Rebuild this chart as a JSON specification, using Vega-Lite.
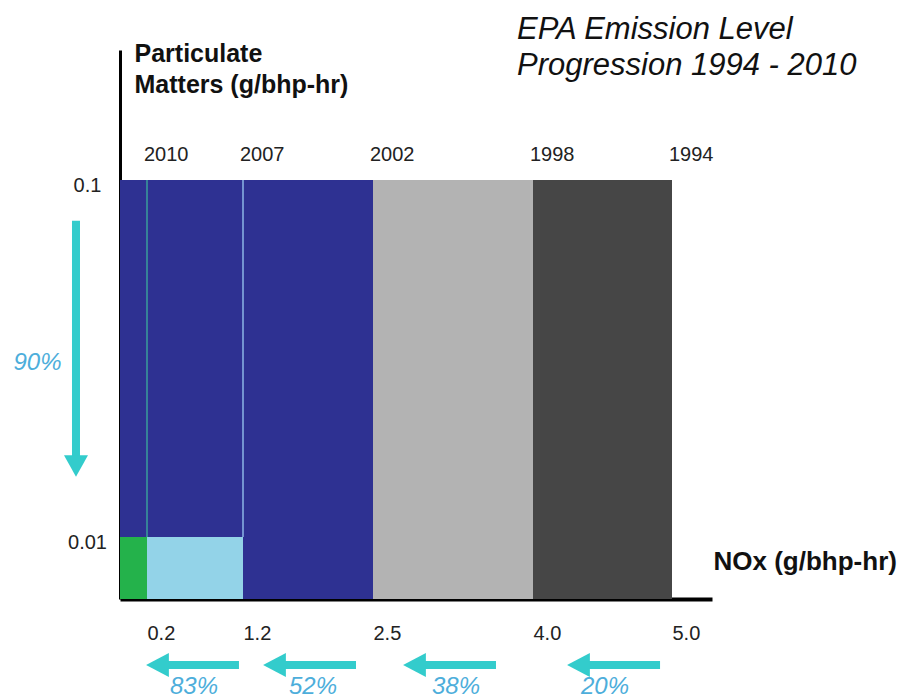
{
  "$schema": "https://vega.github.io/schema/vega-lite/v6.json",
  "width": 592,
  "height": 549,
  "autosize": {"type": "none"},
  "padding": {"left": 120, "top": 50, "right": 190, "bottom": 101},
  "background": "white",
  "config": {"view": {"stroke": null}, "font": "Liberation Sans"},
  "title": {
    "text": ["EPA Emission Level", "Progression 1994 - 2010"],
    "orient": "top",
    "anchor": "start",
    "frame": "group",
    "dx": 397,
    "offset": 0,
    "dy": 65,
    "baseline": "alphabetic",
    "fontSize": 31,
    "fontStyle": "italic",
    "fontWeight": "normal",
    "lineHeight": 36,
    "color": "#111111",
    "font": "Liberation Sans"
  },
  "datasets": {
    "standards": [
      {"year": "1994", "nox": 5.0, "pm": 0.1},
      {"year": "1998", "nox": 4.0, "pm": 0.1},
      {"year": "2002", "nox": 2.5, "pm": 0.1},
      {"year": "2007", "nox": 1.2, "pm": 0.01},
      {"year": "2010", "nox": 0.2, "pm": 0.01}
    ],
    "edges": [
      {"year": "2010", "nox": 0.2, "pm": 0.01},
      {"year": "2007", "nox": 1.2, "pm": 0.01}
    ],
    "arrows": [
      {"pct": "90%", "x1": -0.326, "x2": -0.326, "y1": 0.0897, "y2": 0.0279, "hx": -0.326, "hy": 0.0279, "dir": "down", "lx": -0.611, "ly": 0.0521},
      {"pct": "83%", "x1": 1.158, "x2": 0.309, "y1": -0.01065, "y2": -0.01065, "hx": 0.309, "hy": -0.01065, "dir": "left", "lx": 0.69, "ly": -0.0153},
      {"pct": "52%", "x1": 2.33, "x2": 1.515, "y1": -0.01065, "y2": -0.01065, "hx": 1.515, "hy": -0.01065, "dir": "left", "lx": 1.9, "ly": -0.0153},
      {"pct": "38%", "x1": 3.653, "x2": 2.889, "y1": -0.01065, "y2": -0.01065, "hx": 2.889, "hy": -0.01065, "dir": "left", "lx": 3.278, "ly": -0.0153},
      {"pct": "20%", "x1": 4.914, "x2": 4.327, "y1": -0.01065, "y2": -0.01065, "hx": 4.327, "hy": -0.01065, "dir": "left", "lx": 4.518, "ly": -0.0153}
    ]
  },
  "layer": [
    {
      "data": {"name": "standards"},
      "mark": {"type": "rect"},
      "encoding": {
        "x": {
          "field": "nox",
          "type": "quantitative",
          "scale": {"domain": [0, 0.2, 1.2, 2.5, 4, 5, 5.29], "range": [0, 27, 123, 253, 413, 552, 592], "nice": false, "zero": false},
          "axis": {
            "values": [0.2, 1.2, 2.5, 4, 5],
            "format": ".1f",
            "ticks": false,
            "grid": false,
            "domainColor": "#000000",
            "domainWidth": 4,
            "labelAlign": "left",
            "labelBaseline": "top",
            "labelPadding": 24,
            "labelFontSize": 20,
            "labelColor": "#222222",
            "labelFlush": false,
            "labelOverlap": false,
            "title": "NOx (g/bhp-hr)",
            "titleX": 593,
            "titleY": -30,
            "titleAlign": "left",
            "titleBaseline": "alphabetic",
            "titleFontSize": 26,
            "titleFontWeight": "bold",
            "titleColor": "#111111"
          }
        },
        "x2": {"datum": 0},
        "y": {
          "field": "pm",
          "type": "quantitative",
          "scale": {"domain": [0, 0.01, 0.1, 0.133], "range": [549, 487, 130, 0], "nice": false, "zero": false},
          "axis": {
            "values": [0.01, 0.1],
            "format": ".2~f",
            "ticks": false,
            "grid": false,
            "domainColor": "#000000",
            "domainWidth": 3,
            "labelAlign": "center",
            "labelBaseline": "middle",
            "labelPadding": 33,
            "labelOffset": 5,
            "labelFontSize": 20,
            "labelColor": "#222222",
            "title": ["Particulate", "Matters (g/bhp-hr)"],
            "titleAngle": 0,
            "titleX": 14,
            "titleY": 11,
            "titleAlign": "left",
            "titleBaseline": "alphabetic",
            "titleFontSize": 25,
            "titleFontWeight": "bold",
            "titleLineHeight": 31,
            "titleColor": "#111111"
          }
        },
        "y2": {"datum": 0},
        "color": {
          "field": "year",
          "type": "nominal",
          "scale": {"domain": ["1994", "1998", "2002", "2007", "2010"], "range": ["#464646", "#B3B3B3", "#2E3192", "#93D3E8", "#24B24B"]},
          "legend": null
        }
      }
    },
    {
      "data": {"name": "edges"},
      "mark": {"type": "rule", "strokeWidth": 1.5},
      "encoding": {
        "x": {"field": "nox", "type": "quantitative"},
        "y": {"field": "pm", "type": "quantitative"},
        "y2": {"datum": 0.1},
        "stroke": {
          "field": "year",
          "type": "nominal",
          "scale": {"domain": ["2010", "2007"], "range": ["#3A9E9A", "#8CB6E6"]},
          "legend": null
        }
      }
    },
    {
      "data": {"name": "standards"},
      "mark": {"type": "text", "align": "left", "baseline": "alphabetic", "dy": -19, "dx": -3, "fontSize": 20, "color": "#222222"},
      "encoding": {
        "x": {"field": "nox", "type": "quantitative"},
        "y": {"datum": 0.1},
        "text": {"field": "year"}
      }
    },
    {
      "data": {"name": "arrows"},
      "mark": {"type": "rule", "strokeWidth": 8, "color": "#33CCCC", "strokeCap": "butt"},
      "encoding": {
        "x": {"field": "x1", "type": "quantitative"},
        "x2": {"field": "x2"},
        "y": {"field": "y1", "type": "quantitative"},
        "y2": {"field": "y2"}
      }
    },
    {
      "data": {"name": "arrows"},
      "mark": {"type": "point", "filled": true, "color": "#33CCCC", "size": 576, "opacity": 1, "strokeWidth": 0},
      "encoding": {
        "x": {"field": "hx", "type": "quantitative"},
        "y": {"field": "hy", "type": "quantitative"},
        "shape": {
          "field": "dir",
          "type": "nominal",
          "scale": {"domain": ["down", "left"], "range": ["M-1,-0.9L1,-0.9L0,0.9Z", "M-0.95,0L0.95,-1L0.95,1Z"]},
          "legend": null
        }
      }
    },
    {
      "data": {"name": "arrows"},
      "mark": {"type": "text", "align": "center", "baseline": "alphabetic", "fontSize": 24, "fontStyle": "italic", "color": "#4DAEDB"},
      "encoding": {
        "x": {"field": "lx", "type": "quantitative"},
        "y": {"field": "ly", "type": "quantitative"},
        "text": {"field": "pct"}
      }
    }
  ]
}
